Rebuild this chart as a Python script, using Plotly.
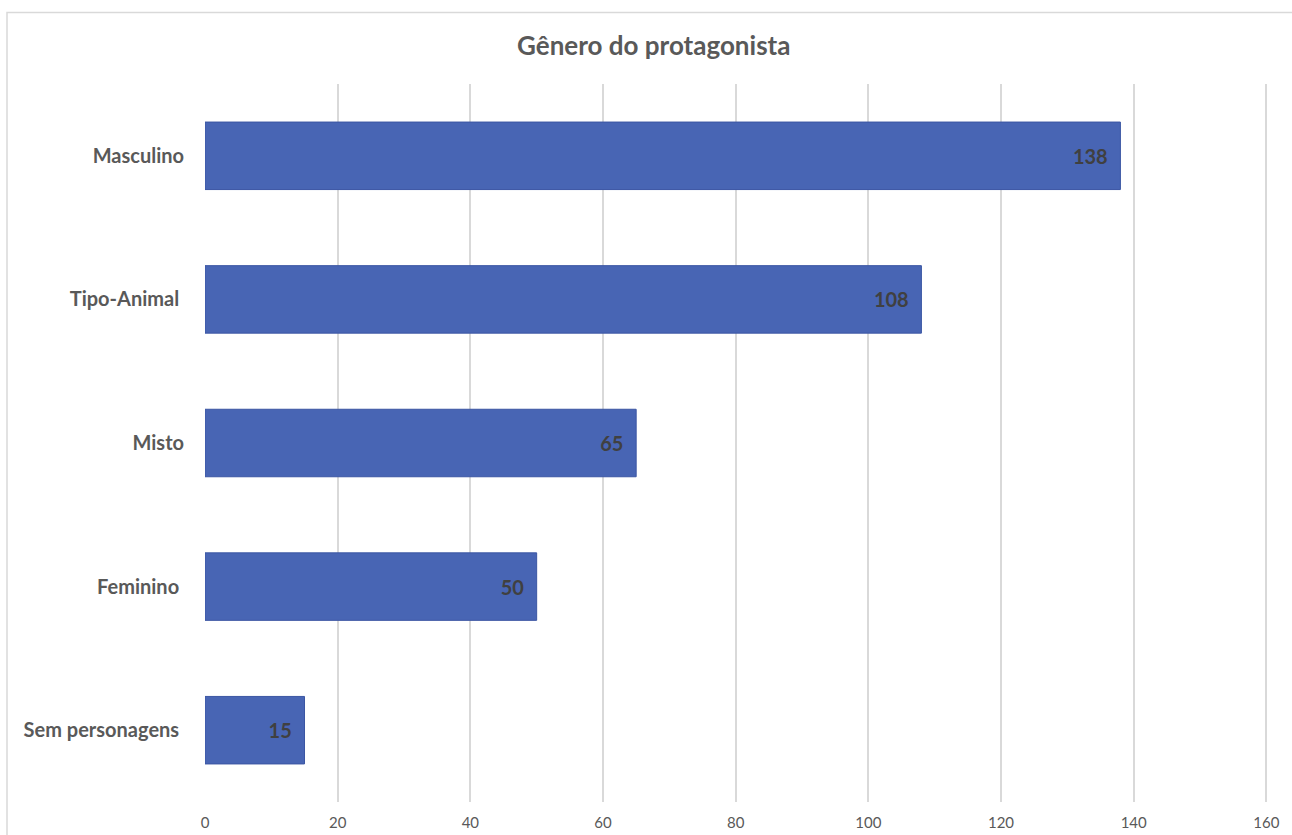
import plotly.graph_objects as go

categories = ["Sem personagens ", "Feminino ", "Misto", "Tipo-Animal ", "Masculino"]
values = [15, 50, 65, 108, 138]
tick_vals = [0, 20, 40, 60, 80, 100, 120, 140, 160]

FONT = "Lato, 'Open Sans', sans-serif"

fig = go.Figure()
fig.add_trace(go.Bar(
    y=categories, x=values, orientation="h",
    marker=dict(color="#4865B4", line=dict(color="#3B56A3", width=1)),
    width=0.47,
    texttemplate="%{x}  ", textposition="inside", insidetextanchor="end",
    textfont=dict(family=FONT, size=20, color="#404040", weight="bold"),
    cliponaxis=False,
))

fig.update_layout(
    width=1292, height=835,
    margin=dict(l=205, r=23, t=84, b=33, autoexpand=False),
    paper_bgcolor="white", plot_bgcolor="white",
    showlegend=False,
    title=dict(text="<b>Gênero do protagonista</b>", x=0.506, xref="container", xanchor="center",
               y=1 - 46 / 835, yref="container", yanchor="middle",
               font=dict(family=FONT, size=26, color="#595959")),
    xaxis=dict(range=[0, 160.4], tickvals=tick_vals, showgrid=True, gridcolor="#D9D9D9", gridwidth=1.5,
               zeroline=False, showline=False, ticks="", automargin=False,
               tickfont=dict(family=FONT, size=15, color="#595959"), ticklabelstandoff=10),
    yaxis=dict(showgrid=False, showline=False, ticks="", zeroline=False, automargin=False,
               tickfont=dict(family=FONT, size=20, color="#595959", weight="bold"),
               ticklabelstandoff=20),
    font=dict(family=FONT),
)

fig.add_shape(type="rect", xref="paper", yref="paper",
              x0=(7 - 205) / 1064, x1=1.05, y0=-0.1, y1=(802 - 12.5) / 718,
              line=dict(color="#D9D9D9", width=1.5), fillcolor="rgba(0,0,0,0)", layer="below")

fig.write_html("out.html")
